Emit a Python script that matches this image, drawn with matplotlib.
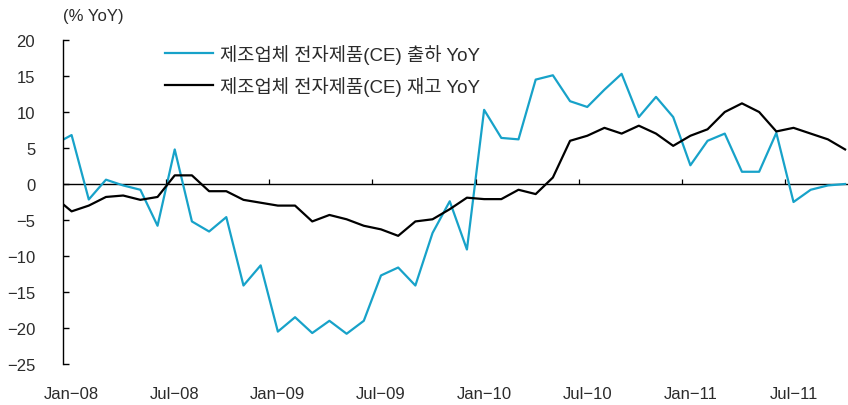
import matplotlib

matplotlib.use("Agg")
import matplotlib.pyplot as plt
import numpy as np

plt.rcParams["font.family"] = ["Liberation Sans", "Noto Sans CJK KR"]
plt.rcParams["axes.unicode_minus"] = True

# monthly series, Dec-07 .. Oct-11 (first point sits just left of the axis)
month_index = np.arange(-1, 46)
shipment_yoy = [
    5.5, 6.8, -2.15, 0.6, -0.2, -0.8, -5.8, 4.8, -5.2, -6.6, -4.6, -14.1,
    -11.3, -20.5, -18.5, -20.7, -19.0, -20.8, -19.0, -12.7, -11.6, -14.1,
    -6.8, -2.4, -9.1, 10.3, 6.4, 6.2, 14.5, 15.1, 11.5, 10.7, 13.1, 15.3,
    9.3, 12.1, 9.3, 2.6, 6.0, 7.0, 1.7, 1.7, 7.1, -2.5, -0.8, -0.2, 0.0,
]
inventory_yoy = [
    -1.8, -3.8, -3.0, -1.8, -1.6, -2.2, -1.8, 1.2, 1.2, -1.0, -1.0, -2.2,
    -2.6, -3.0, -3.0, -5.2, -4.3, -4.9, -5.8, -6.3, -7.2, -5.2, -4.9, -3.5,
    -1.9, -2.1, -2.1, -0.8, -1.4, 0.9, 6.0, 6.7, 7.8, 7.0, 8.1, 7.0, 5.3,
    6.7, 7.6, 10.0, 11.2, 10.0, 7.3, 7.8, 7.0, 6.2, 4.8,
]
series_labels = ["제조업체 전자제품(CE) 출하 YoY", "제조업체 전자제품(CE) 재고 YoY"]
label_months = [0, 6, 12, 18, 24, 30, 36, 42]
label_texts = ["Jan\u221208", "Jul\u221208", "Jan\u221209", "Jul\u221209",
               "Jan\u221210", "Jul\u221210", "Jan\u221211", "Jul\u221211"]
y_ticks = [20, 15, 10, 5, 0, -5, -10, -15, -20, -25]

BLUE = "#17a2c9"
TEXT = "#2b2b2b"

fig = plt.figure(figsize=(8.48, 4.06), dpi=100)
ax = fig.add_axes([63 / 848, 41 / 406, 785 / 848, 324 / 406])

ax.plot(month_index, shipment_yoy, color=BLUE, linewidth=1.6, label=series_labels[0])
ax.plot(month_index, inventory_yoy, color="black", linewidth=1.6, label=series_labels[1])

ax.axhline(0, color="black", linewidth=1.0, zorder=1)
# small separators between half-year blocks on the zero line
ax.vlines(np.array(label_months[1:]) - 0.5, 0, 0.75, color="black", linewidth=0.9)

ax.set_xlim(-0.5, 45.17)
ax.set_ylim(-25, 20)

for side in ["top", "right", "bottom"]:
    ax.spines[side].set_visible(False)
ax.spines["left"].set_linewidth(1.0)

ax.set_yticks(y_ticks)
ax.set_yticklabels([str(v).replace("-", "\u2212") for v in y_ticks])
ax.tick_params(axis="y", direction="in", length=4, width=1.0, pad=20,
               labelsize=12, labelcolor=TEXT)
ax.set_xticks(label_months)
ax.set_xticklabels(label_texts)
ax.tick_params(axis="x", length=0, pad=16, labelsize=12, labelcolor=TEXT)

fig.text(63 / 848, 1 - 17 / 406, "(% YoY)", fontsize=12, color=TEXT,
         ha="left", va="center")

ax.legend(
    loc="upper left",
    bbox_to_anchor=(165 / 848, 1 - 45 / 406),
    bbox_transform=fig.transFigure,
    frameon=False,
    fontsize=13.5,
    handlelength=2.55,
    handletextpad=0.4,
    labelspacing=0.62,
    borderpad=0,
    borderaxespad=0,
    labelcolor=TEXT,
)

fig.savefig("out.png", dpi=100)
plt.close(fig)
